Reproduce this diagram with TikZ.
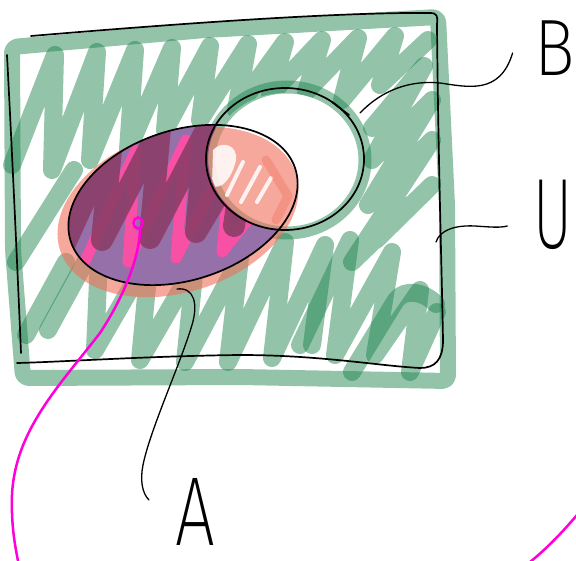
\documentclass[tikz,border=0pt]{standalone}
\usepackage{fontspec}
\usepackage{tikz}
\usetikzlibrary{positioning}
\IfFontExistsTF{Fira Sans ExtraLight}{\newfontfamily\handfont{Fira Sans ExtraLight}}{%
  \IfFontExistsTF{Fira Sans Light}{\newfontfamily\handfont{Fira Sans Light}}{\newfontfamily\handfont{Fira Sans}}}
\definecolor{scribgreen}{RGB}{26,130,75}
\definecolor{salmonred}{RGB}{240,110,90}
\definecolor{setpurple}{RGB}{150,112,168}
\definecolor{darkplum}{RGB}{140,62,104}
\definecolor{hotpink}{RGB}{248,80,165}
\definecolor{penpink}{RGB}{255,0,220}

\begin{document}
\begin{tikzpicture}[x=1pt, y=-1pt,
  greenpen/.style={draw=scribgreen, draw opacity=0.47, line width=18pt, line cap=round, line join=round},
  inkpen/.style={draw=black, line width=1.7pt, line cap=round, line join=round},
  leader/.style={draw=black, line width=1.3pt, line cap=round},
  markerpen/.style={line width=#1, line cap=round, line join=round},
  handlabel/.style={inner sep=0pt, font=\handfont\fontsize{#1}{#1}\selectfont},
  shapeA/.style={rotate around={18:(183,205)}}]
\useasboundingbox (0,0) rectangle (576,561);
\coordinate (A) at (183,205);
\coordinate (B) at (285,159);

% universe: frame and scribble
\draw[greenpen, line width=16pt, rounded corners=6pt] (12,47) -- (205,30) -- (438,17) -- (447,205) -- (448,381) -- (240,377) -- (23,378) -- (13,250) -- cycle;
\draw[greenpen] (12,165) -- (55,55) -- (52,170) -- (97,52) -- (90,160) -- (135,50) -- (128,150) -- (172,48) -- (165,130) -- (210,46) -- (200,120) -- (248,44) -- (236,110) -- (285,42) -- (270,95) -- (322,40) -- (306,92) -- (358,38) -- (342,100) -- (395,36) -- (380,85) -- (428,40);
\draw[greenpen] (16,262) -- (74,170);
\draw[greenpen] (26,335) -- (66,262);
\draw[greenpen] (48,330) -- (100,235) -- (95,350) -- (150,255) -- (140,360) -- (195,265) -- (185,362) -- (240,258) -- (228,362) -- (285,242) -- (272,358) -- (325,245) -- (312,345);
\draw[greenpen] (372,128) -- (424,66) -- (372,160) -- (432,100) -- (368,205) -- (432,140) -- (352,262) -- (432,185) -- (376,240) -- (410,205);
\draw[greenpen] (300,345) -- (350,240) -- (335,355) -- (392,252) -- (375,355) -- (420,290) -- (410,372) -- (437,312);
\draw[greenpen] (352,372) -- (396,300) .. controls (405,288) and (425,292) .. (436,304);

% B is left blank
\fill[white] (B) ellipse [x radius=73, y radius=66];
\draw[greenpen, line width=13pt] (287,160) ellipse [x radius=78, y radius=73];

% A: salmon under everything
\fill[salmonred, opacity=0.6, rotate around={18:(178,212)}] (178,212) ellipse [x radius=124, y radius=80];
\begin{scope}
  \clip (B) ellipse [x radius=76, y radius=69];
  \fill[white, opacity=0.85] (213,150) .. controls (222,140) and (238,145) .. (236,160) .. controls (232,178) and (222,190) .. (212,186) -- cycle;
  \foreach \ax/\ay/\bx/\by in {227/195/243/162, 241/202/260/167, 257/202/271/178}
    \draw[white, opacity=0.85, markerpen=4pt] (\ax,\ay) -- (\bx,\by);
\end{scope}
\draw[salmonred, opacity=0.35, markerpen=9pt] (266,160) -- (288,196) -- (276,220);

% A without B
\begin{scope}
  \clip[shapeA] (A) ellipse [x radius=118, y radius=75];
  \begin{scope}[even odd rule]
  \clip (0,0) rectangle (576,561) (B) ellipse [x radius=77, y radius=70];
  \fill[setpurple] (40,100) rectangle (320,300);
  \draw[hotpink, markerpen=11pt] (80,272) -- (136,150) -- (128,262) -- (186,140) -- (176,258) -- (232,150) -- (222,252) -- (268,195);
  \draw[darkplum, opacity=0.9, markerpen=22pt] (62,250) -- (112,140) -- (102,240) -- (160,128) -- (150,238) -- (205,132) -- (196,232) -- (245,150) -- (234,226);
  \end{scope}
\end{scope}

% outlines
\draw[inkpen] (31,36) .. controls (150,26) and (330,12) .. (430,13) .. controls (437,13) and (438,16) .. (437,24) .. controls (438,150) and (442,280) .. (443,340) .. controls (443,360) and (435,368) .. (420,368) .. controls (380,366) and (320,355) .. (240,355) .. controls (150,356) and (60,362) .. (17,363);
\draw[inkpen] (7,55) .. controls (12,150) and (18,280) .. (21,353);
\draw[inkpen, shapeA] (A) ellipse [x radius=118, y radius=75];
\draw[inkpen] (B) ellipse [x radius=79, y radius=71];
\draw[inkpen] (332,102) -- (349,115);

% labels
\node[handlabel=80] (labB) at (555,48) {\scalebox{0.85}[1]{B}};
\node[handlabel=100] (labU) at (553,215) {\scalebox{0.6}[1]{U}};
\node[handlabel=98] (labA) at (195,512) {\scalebox{0.72}[1]{A}};

\draw[leader] (360,113) .. controls (382,90) and (410,80) .. (440,83) .. controls (468,87) and (500,95) .. ([xshift=-22pt, yshift=-5pt]labB.west);
\draw[leader] (436,242) .. controls (440,230) and (455,225) .. (475,226) .. controls (490,227) and (500,228) .. ([xshift=-26pt, yshift=-11pt]labU.west);
\draw[leader] (177,289) .. controls (195,287) and (198,305) .. (192,325) .. controls (180,365) and (150,430) .. (143,465) .. controls (140,480) and (142,493) .. ([xshift=-26pt, yshift=12pt]labA.west);

% pen strokes
\draw[penpink, line width=2.5pt] (138,223) ellipse [x radius=4.5, y radius=5.5];
\draw[penpink, line width=2.5pt] (140,228) .. controls (140,255) and (125,295) .. (100,333) .. controls (60,385) and (15,430) .. (12,495) .. controls (11,525) and (15,545) .. (18,561);
\draw[penpink, line width=2.5pt] (577,515) .. controls (560,535) and (545,550) .. (530,562);
\end{tikzpicture}
\end{document}
